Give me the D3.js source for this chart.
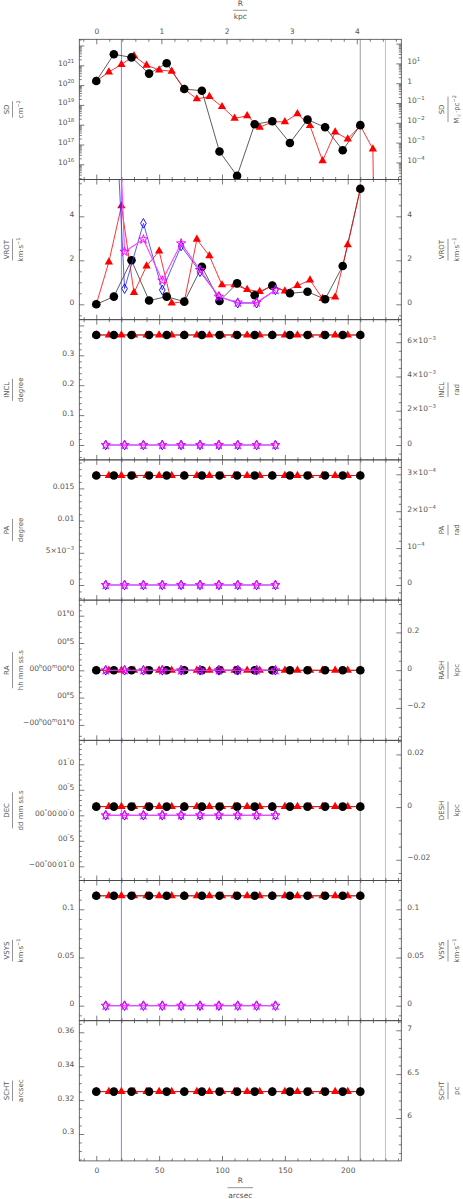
<!DOCTYPE html>
<html><head><meta charset="utf-8">
<script src="https://cdn.jsdelivr.net/npm/d3@7"></script>
<style>
body{margin:0;background:#fff}
svg text{font-family:"DejaVu Sans","Liberation Sans",sans-serif;fill:#555}
</style></head><body>
<svg id="c" width="463" height="1199"></svg>
<script>
// ---------------- DATA ----------------
const R_OBS  = [0,14,28,42,56,70,84,98,112,126,140,154,168,182,196,210];
const R_MOD  = [0,10,20,30,40,50,60,70,80,90,100,110,120,130,140,150,160,170,180,190,200,210];
const R_MOD_SD = [0,10,20,30,40,50,60,70,80,90,100,110,120,130,140,150,160,170,180,190,200,210,220,230];
const R_BOOT = [7.5,22.5,37.5,52.5,67.5,82.5,97.5,112.5,127.5,142.5];

const SD_OBS = [1.6e20,3.6e21,2.5e21,3.8e20,1.26e21,6.3e19,5.2e19,4.4e16,2.6e15,1.05e18,1.5e18,1.2e17,1.8e18,7.4e17,5.1e16,9.5e17];
const SD_MOD = [1.6e20,4.6e20,1.1e21,3.0e21,1.0e21,5.8e20,5.0e20,6.2e19,2.0e19,2.6e19,8.1e18,2.1e18,2.8e18,7.4e17,1.4e18,1.4e18,3.5e18,8.9e17,1.5e16,4.2e17,1.9e17,9.0e17,5.9e16,0];

const VROT_OBS  = [0,0.35,2.0,0.17,0.35,0.12,1.71,0.15,0.95,0.41,0.85,0.5,0.57,0.23,1.74,5.25];
const VROT_MOD  = [0,1.92,4.47,0.53,1.74,2.42,0.05,0.12,2.95,2.2,0.88,0.88,0.67,0.58,0.85,0.6,0.85,1.1,0.26,0.33,2.7,5.25];
const VROT_DIA  = [18,0.71,3.68,0.65,2.65,1.48,0.35,0.05,0.05,0.65];
const VROT_STAR = [24,2.39,2.95,1.08,2.77,1.56,0.35,0.08,0.08,0.65];

const INCL_OBS = [0.368,0.368,0.368,0.368,0.368,0.368,0.368,0.368,0.368,0.368,0.368,0.368,0.368,0.368,0.368,0.368];
const INCL_MOD = [0.368,0.368,0.368,0.368,0.368,0.368,0.368,0.368,0.368,0.368,0.368,0.368,0.368,0.368,0.368,0.368,0.368,0.368,0.368,0.368,0.368,0.368];
const INCL_BOOT = [0,0,0,0,0,0,0,0,0,0];

const PA_OBS = [0.017,0.017,0.017,0.017,0.017,0.017,0.017,0.017,0.017,0.017,0.017,0.017,0.017,0.017,0.017,0.017];
const PA_MOD = [0.017,0.017,0.017,0.017,0.017,0.017,0.017,0.017,0.017,0.017,0.017,0.017,0.017,0.017,0.017,0.017,0.017,0.017,0.017,0.017,0.017,0.017];
const PA_BOOT = [0,0,0,0,0,0,0,0,0,0];

const RA_OBS = [0,0,0,0,0,0,0,0,0,0,0,0,0,0,0,0];
const RA_MOD = [0,0,0,0,0,0,0,0,0,0,0,0,0,0,0,0,0,0,0,0,0,0];
const RA_BOOT = [0,0,0,0,0,0,0,0,0,0];

const DEC_OBS = [0.17,0.17,0.17,0.17,0.17,0.17,0.17,0.17,0.17,0.17,0.17,0.17,0.17,0.17,0.17,0.17];
const DEC_MOD = [0.17,0.17,0.17,0.17,0.17,0.17,0.17,0.17,0.17,0.17,0.17,0.17,0.17,0.17,0.17,0.17,0.17,0.17,0.17,0.17,0.17,0.17];
const DEC_BOOT = [0,0,0,0,0,0,0,0,0,0];

const VSYS_OBS = [0.114,0.114,0.114,0.114,0.114,0.114,0.114,0.114,0.114,0.114,0.114,0.114,0.114,0.114,0.114,0.114];
const VSYS_MOD = [0.114,0.114,0.114,0.114,0.114,0.114,0.114,0.114,0.114,0.114,0.114,0.114,0.114,0.114,0.114,0.114,0.114,0.114,0.114,0.114,0.114,0.114];
const VSYS_BOOT = [0,0,0,0,0,0,0,0,0,0];

const SCHT_OBS = [0.325,0.325,0.325,0.325,0.325,0.325,0.325,0.325,0.325,0.325,0.325,0.325,0.325,0.325,0.325,0.325];
const SCHT_MOD = [0.325,0.325,0.325,0.325,0.325,0.325,0.325,0.325,0.325,0.325,0.325,0.325,0.325,0.325,0.325,0.325,0.325,0.325,0.325,0.325,0.325,0.325];

// reference radii (vertical lines)
const REF_LINES = [20, 210, 230];

// axis ticks and labels
const X_MAJOR = [0,50,100,150,200];
const X_LABELS = ["0","50","100","150","200"];
const X_MINOR = [-10,10,20,30,40,60,70,80,90,110,120,130,140,160,170,180,190,210,220,230,240];
const KPC_MAJOR = [0,1,2,3,4];
const KPC_LABELS = ["0","1","2","3","4"];
const KPC_MINOR = [-0.2,0.2,0.4,0.6,0.8,1.2,1.4,1.6,1.8,2.2,2.4,2.6,2.8,3.2,3.4,3.6,3.8,4.2,4.4,4.6];

const SD_L_MAJOR = [1e16,1e17,1e18,1e19,1e20,1e21,1e22];
const SD_L_LABELS = ["10^{16}","10^{17}","10^{18}","10^{19}","10^{20}","10^{21}",""];
const SD_R_MAJOR = [1e-4,1e-3,1e-2,1e-1,1,10,100];
const SD_R_LABELS = ["10^{−4}","10^{−3}","10^{−2}","10^{−1}","1","10^{1}",""];
const VROT_MAJOR = [0,2,4];
const VROT_LABELS = ["0","2","4"];
const VROT_MINOR = [-0.5,0.5,1,1.5,2.5,3,3.5,4.5,5,5.5];
const INCL_L_MAJOR = [0,0.1,0.2,0.3,0.4];
const INCL_L_LABELS = ["0","0.1","0.2","0.3",""];
const INCL_L_MINOR = [-0.04,-0.02,0.02,0.04,0.06,0.08,0.12,0.14,0.16,0.18,0.22,0.24,0.26,0.28,0.32,0.34,0.36,0.38];
const INCL_R_MAJOR = [0,2e-3,4e-3,6e-3];
const INCL_R_LABELS = ["0","2×10^{−3}","4×10^{−3}","6×10^{−3}"];
const INCL_R_MINOR = [-5e-4,5e-4,1e-3,1.5e-3,2.5e-3,3e-3,3.5e-3,4.5e-3,5e-3,5.5e-3,6.5e-3,7e-3];
const PA_L_MAJOR = [0,0.005,0.01,0.015];
const PA_L_LABELS = ["0","5×10^{−3}","0.01","0.015"];
const PA_L_MINOR = [-0.002,-0.001,0.001,0.002,0.003,0.004,0.006,0.007,0.008,0.009,0.011,0.012,0.013,0.014,0.016,0.017,0.018,0.019];
const PA_R_MAJOR = [0,1e-4,2e-4,3e-4];
const PA_R_LABELS = ["0","10^{−4}","2×10^{−4}","3×10^{−4}"];
const PA_R_MINOR = [-4e-5,-2e-5,2e-5,4e-5,6e-5,8e-5,1.2e-4,1.4e-4,1.6e-4,1.8e-4,2.2e-4,2.4e-4,2.6e-4,2.8e-4,3.2e-4];
const RA_L_MAJOR = [-1,-0.5,0,0.5,1];
const RA_L_LABELS = ["−00^{h}00^{m}01^{s}0","00^{s}5","00^{h}00^{m}00^{s}0","00^{s}5","01^{s}0"];
const RA_L_MINOR = [-1.2,-0.9,-0.8,-0.7,-0.6,-0.4,-0.3,-0.2,-0.1,0.1,0.2,0.3,0.4,0.6,0.7,0.8,0.9,1.1,1.2];
const RA_R_MAJOR = [-0.2,0,0.2];
const RA_R_LABELS = ["−0.2","0","0.2"];
const RA_R_MINOR = [-0.35,-0.3,-0.25,-0.15,-0.1,-0.05,0.05,0.1,0.15,0.25,0.3,0.35];
const DEC_L_MAJOR = [-1,-0.5,0,0.5,1];
const DEC_L_LABELS = ["−00^{°}00^{′}01^{″}0","00^{″}5","00^{°}00^{′}00^{″}0","00^{″}5","01^{″}0"];
const DEC_L_MINOR = [-1.2,-0.9,-0.8,-0.7,-0.6,-0.4,-0.3,-0.2,-0.1,0.1,0.2,0.3,0.4,0.6,0.7,0.8,0.9,1.1,1.2,1.3,1.4];
const DEC_R_MAJOR = [-0.02,0,0.02];
const DEC_R_LABELS = ["−0.02","0","0.02"];
const DEC_R_MINOR = [-0.025,-0.015,-0.01,-0.005,0.005,0.01,0.015,0.025];
const VSYS_MAJOR = [0,0.05,0.1];
const VSYS_LABELS = ["0","0.05","0.1"];
const VSYS_MINOR = [-0.01,0.01,0.02,0.03,0.04,0.06,0.07,0.08,0.09,0.11,0.12];
const SCHT_L_MAJOR = [0.3,0.32,0.34,0.36];
const SCHT_L_LABELS = ["0.3","0.32","0.34","0.36"];
const SCHT_L_MINOR = [0.285,0.29,0.295,0.305,0.31,0.315,0.325,0.33,0.335,0.345,0.35,0.355,0.365];
const SCHT_R_MAJOR = [6,6.5,7];
const SCHT_R_LABELS = ["6","6.5","7"];
const SCHT_R_MINOR = [5.6,5.7,5.8,5.9,6.1,6.2,6.3,6.4,6.6,6.7,6.8,6.9,7.1];

// ---------------- LAYOUT ----------------
const X0 = 79.3, X1 = 401.3, TOP = 39.3, PH = 140.2;
const ARCSEC_PER_KPC = 51.8;
const SD_CONV = 20.096; // log10(cm^-2 per Msun pc^-2)

const svg = d3.select("#c");
const x = d3.scaleLinear().domain([-13.5, 242.6]).range([X0, X1]);
const xk = d3.scaleLinear().domain([-13.5/ARCSEC_PER_KPC, 242.6/ARCSEC_PER_KPC]).range([X0, X1]);

const panels = [
  {id:"SD", log:true, dom:[Math.pow(10,15.232), Math.pow(10,22.313)], rdom:[Math.pow(10,15.232-SD_CONV), Math.pow(10,22.313-SD_CONV)],
   lt:"SD", lu:"cm^{−2}", rt:"SD", ru:"M_{☉}·pc^{−2}", obs:SD_OBS, mod:SD_MOD, modR:R_MOD_SD,
   lMaj:SD_L_MAJOR, lLab:SD_L_LABELS, rMaj:SD_R_MAJOR, rLab:SD_R_LABELS},
  {id:"VROT", dom:[-0.70,5.673], rdom:[-0.70,5.673], lt:"VROT", lu:"km·s^{−1}", rt:"VROT", ru:"km·s^{−1}",
   obs:VROT_OBS, mod:VROT_MOD, modR:R_MOD, dia:VROT_DIA, star:VROT_STAR,
   lMaj:VROT_MAJOR, lLab:VROT_LABELS, lMin:VROT_MINOR, rMaj:VROT_MAJOR, rLab:VROT_LABELS, rMin:VROT_MINOR},
  {id:"INCL", dom:[-0.0498,0.4191], rdom:[-0.0498*Math.PI/180,0.4191*Math.PI/180], lt:"INCL", lu:"degree", rt:"INCL", ru:"rad",
   obs:INCL_OBS, mod:INCL_MOD, modR:R_MOD, dia:INCL_BOOT, star:INCL_BOOT,
   lMaj:INCL_L_MAJOR, lLab:INCL_L_LABELS, lMin:INCL_L_MINOR, rMaj:INCL_R_MAJOR, rLab:INCL_R_LABELS, rMin:INCL_R_MINOR},
  {id:"PA", dom:[-0.002345,0.019425], rdom:[-0.002345*Math.PI/180,0.019425*Math.PI/180], lt:"PA", lu:"degree", rt:"PA", ru:"rad",
   obs:PA_OBS, mod:PA_MOD, modR:R_MOD, dia:PA_BOOT, star:PA_BOOT,
   lMaj:PA_L_MAJOR, lLab:PA_L_LABELS, lMin:PA_L_MINOR, rMaj:PA_R_MAJOR, rLab:PA_R_LABELS, rMin:PA_R_MINOR},
  {id:"RA", dom:[-1.282,1.2857], rdom:[-0.3715,0.3712], lt:"RA", lu:"hh mm ss.s", rt:"RASH", ru:"kpc",
   obs:RA_OBS, mod:RA_MOD, modR:R_MOD, dia:RA_BOOT, star:RA_BOOT,
   lMaj:RA_L_MAJOR, lLab:RA_L_LABELS, lMin:RA_L_MINOR, rMaj:RA_R_MAJOR, rLab:RA_R_LABELS, rMin:RA_R_MINOR},
  {id:"DEC", dom:[-1.2784,1.4706], rdom:[-0.02786,0.02536], lt:"DEC", lu:"dd mm ss.s", rt:"DESH", ru:"kpc",
   obs:DEC_OBS, mod:DEC_MOD, modR:R_MOD, dia:DEC_BOOT, star:DEC_BOOT,
   lMaj:DEC_L_MAJOR, lLab:DEC_L_LABELS, lMin:DEC_L_MINOR, rMaj:DEC_R_MAJOR, rLab:DEC_R_LABELS, rMin:DEC_R_MINOR},
  {id:"VSYS", dom:[-0.01556,0.12988], rdom:[-0.01556,0.12988], lt:"VSYS", lu:"km·s^{−1}", rt:"VSYS", ru:"km·s^{−1}",
   obs:VSYS_OBS, mod:VSYS_MOD, modR:R_MOD, dia:VSYS_BOOT, star:VSYS_BOOT,
   lMaj:VSYS_MAJOR, lLab:VSYS_LABELS, lMin:VSYS_MINOR, rMaj:VSYS_MAJOR, rLab:VSYS_LABELS, rMin:VSYS_MINOR},
  {id:"SCHT", dom:[0.28413,0.36684], rdom:[5.5108,7.1095], lt:"SCHT", lu:"arcsec", rt:"SCHT", ru:"pc",
   obs:SCHT_OBS, mod:SCHT_MOD, modR:R_MOD,
   lMaj:SCHT_L_MAJOR, lLab:SCHT_L_LABELS, lMin:SCHT_L_MINOR, rMaj:SCHT_R_MAJOR, rLab:SCHT_R_LABELS, rMin:SCHT_R_MINOR}
];

// rich text: ^{sup} _{sub}
function rich(sel, str) {
  sel.text(null);
  const re = /(\^\{[^}]*\}|_\{[^}]*\})/g;
  const parts = str.split(re).filter(s => s.length);
  let shift = 0;
  parts.forEach(p => {
    if (p.startsWith("^{")) {
      sel.append("tspan").attr("dy", (-3 - shift) + "px").attr("font-size", "0.72em").text(p.slice(2,-1));
      shift = -3;
    } else if (p.startsWith("_{")) {
      sel.append("tspan").attr("dy", (2 - shift) + "px").attr("font-size", "0.72em").text(p.slice(2,-1));
      shift = 2;
    } else {
      sel.append("tspan").attr("dy", (-shift) + "px").text(p);
      shift = 0;
    }
  });
}

function styleAxis(g, fs) {
  g.select(".domain").remove();
  g.selectAll(".tick line").attr("stroke", "#444").attr("stroke-width", 0.7);
  g.selectAll(".tick text").attr("fill", "#555").attr("font-size", fs).attr("font-family", '"DejaVu Sans",sans-serif');
}

function labelMap(vals, labs){ const m = new Map(); vals.forEach((v,i)=>m.set(v,labs[i])); return m; }

// ---------------- REFERENCE LINES (behind) ----------------
const bottomAll = TOP + PH * panels.length;
const refColors = ["#7373ff", "#b4b4b4", "#ff9a9a"];
const refWidths = [0.9, 1.3, 0.9];
svg.append("g").selectAll("line").data(REF_LINES).join("line")
  .attr("x1", d => x(d)).attr("x2", d => x(d))
  .attr("y1", TOP).attr("y2", bottomAll)
  .attr("stroke", (d,i) => refColors[i]).attr("stroke-width", (d,i)=>refWidths[i]);

// ---------------- PANELS ----------------
panels.forEach((p, i) => {
  const top = TOP + i * PH, bot = top + PH, mid = (top + bot) / 2;
  const y = (p.log ? d3.scaleLog() : d3.scaleLinear()).domain(p.dom).range([bot, top]);
  const yr = (p.log ? d3.scaleLog() : d3.scaleLinear()).domain(p.rdom).range([bot, top]);

  svg.append("clipPath").attr("id", "clip" + i).append("rect")
    .attr("x", X0).attr("y", top).attr("width", X1 - X0).attr("height", PH);

  svg.append("rect").attr("x", X0).attr("y", top).attr("width", X1 - X0).attr("height", PH)
    .attr("fill", "none").attr("stroke", "#444").attr("stroke-width", 0.8);

  const gb = svg.append("g").attr("transform", `translate(0,${bot})`);
  const lastPanel = i === panels.length - 1;
  const xm = labelMap(X_MAJOR, X_LABELS);
  gb.call(d3.axisBottom(x).tickValues(X_MAJOR).tickSize(-5).tickSizeOuter(0).tickPadding(10)
      .tickFormat(d => lastPanel ? xm.get(d) : ""));
  styleAxis(gb, "7.5px");
  gb.selectAll(".tick text").attr("dy", "0").attr("y", 11.7);
  const gbm = svg.append("g").attr("transform", `translate(0,${bot})`);
  gbm.call(d3.axisBottom(x).tickValues(X_MINOR).tickSize(-2.5).tickSizeOuter(0).tickFormat(""));
  styleAxis(gbm, "7px");

  const gt = svg.append("g").attr("transform", `translate(0,${top})`);
  const gtm = svg.append("g").attr("transform", `translate(0,${top})`);
  if (i === 0) {
    const km = labelMap(KPC_MAJOR, KPC_LABELS);
    gt.call(d3.axisTop(xk).tickValues(KPC_MAJOR).tickSize(-5).tickSizeOuter(0).tickFormat(d => km.get(d)));
    styleAxis(gt, "7.5px");
    gt.selectAll(".tick text").attr("dy", "0").attr("y", 34.3 - top);
    gtm.call(d3.axisTop(xk).tickValues(KPC_MINOR).tickSize(-2.5).tickSizeOuter(0).tickFormat(""));
  } else {
    gt.call(d3.axisTop(x).tickValues(X_MAJOR).tickSize(-5).tickSizeOuter(0).tickFormat(""));
    styleAxis(gt, "7px");
    gtm.call(d3.axisTop(x).tickValues(X_MINOR).tickSize(-2.5).tickSizeOuter(0).tickFormat(""));
  }
  styleAxis(gtm, "7px");

  const lm = labelMap(p.lMaj, p.lLab);
  const gl = svg.append("g").attr("transform", `translate(${X0},0)`);
  gl.call(d3.axisLeft(y).tickValues(p.lMaj).tickSize(-5).tickSizeOuter(0).tickPadding(5).tickFormat(d => lm.get(d)));
  styleAxis(gl, "7.5px");
  gl.selectAll(".tick text").each(function(){ rich(d3.select(this), this.textContent); });
  const glm = svg.append("g").attr("transform", `translate(${X0},0)`);
  let lMin = p.lMin, rMin = p.rMin;
  if (p.log) {
    lMin = []; rMin = [];
    for (let e = 15; e <= 22; e++) for (let k = 2; k <= 9; k++) lMin.push(k * Math.pow(10, e));
    for (let e = -5; e <= 2; e++) for (let k = 2; k <= 9; k++) rMin.push(k * Math.pow(10, e));
    lMin = lMin.filter(v => v >= p.dom[0] && v <= p.dom[1]);
    rMin = rMin.filter(v => v >= p.rdom[0] && v <= p.rdom[1]);
  }
  glm.call(d3.axisLeft(y).tickValues(lMin).tickSize(-2.5).tickSizeOuter(0).tickFormat(""));
  styleAxis(glm, "7px");

  const rm = labelMap(p.rMaj, p.rLab);
  const gr = svg.append("g").attr("transform", `translate(${X1},0)`);
  gr.call(d3.axisRight(yr).tickValues(p.rMaj).tickSize(-5).tickSizeOuter(0).tickPadding(6).tickFormat(d => rm.get(d)));
  styleAxis(gr, "7.5px");
  gr.selectAll(".tick text").each(function(){ rich(d3.select(this), this.textContent); });
  const grm = svg.append("g").attr("transform", `translate(${X1},0)`);
  grm.call(d3.axisRight(yr).tickValues(rMin).tickSize(-2.5).tickSizeOuter(0).tickFormat(""));
  styleAxis(grm, "7px");

  function vtitle(bx, name, unit) {
    const g = svg.append("g").attr("transform", `translate(${bx},${mid}) rotate(-90)`);
    const t1 = g.append("text").attr("x", 0).attr("y", 0).attr("text-anchor", "middle").attr("font-size", "7px").text(name);
    const t2 = g.append("text").attr("x", 0).attr("y", 14.5).attr("text-anchor", "middle").attr("font-size", "7px");
    rich(t2, unit);
    const L = Math.max(t1.node().getComputedTextLength(), t2.node().getComputedTextLength()) * 0.9;
    g.append("line").attr("x1", -L/2).attr("x2", L/2).attr("y1", 4).attr("y2", 4)
      .attr("stroke", "#666").attr("stroke-width", 0.7);
  }
  vtitle(8.5, p.lt, p.lu);
  vtitle(444, p.rt, p.ru);

  const gd = svg.append("g").attr("clip-path", `url(#clip${i})`);
  const fy = v => (p.log && v <= 0) ? y(1e-30) : y(v);
  const line = d3.line().x(d => x(d[0])).y(d => fy(d[1]));
  const mod = p.modR.map((r, k) => [r, p.mod[k]]);
  const obs = R_OBS.map((r, k) => [r, p.obs[k]]);

  gd.append("path").datum(obs).attr("d", line).attr("fill", "none").attr("stroke", "#333").attr("stroke-width", 0.8);
  gd.append("path").datum(mod).attr("d", line).attr("fill", "none").attr("stroke", "#ff0000").attr("stroke-width", 0.8);
  gd.selectAll(".tri").data(mod.filter(d => !(p.log && d[1] <= 0))).join("path")
    .attr("transform", d => `translate(${x(d[0])},${fy(d[1])})`)
    .attr("d", d3.symbol(d3.symbolTriangle, 30)).attr("fill", "#ff0000");
  gd.selectAll(".dot").data(obs).join("circle")
    .attr("cx", d => x(d[0])).attr("cy", d => fy(d[1])).attr("r", 4.3).attr("fill", "#000");

  if (p.dia) {
    const dia = R_BOOT.map((r, k) => [r, p.dia[k]]);
    gd.append("path").datum(dia).attr("d", line).attr("fill", "none").attr("stroke", "#3030ff").attr("stroke-width", 0.8);
    gd.selectAll(".dia").data(dia).join("path")
      .attr("transform", d => `translate(${x(d[0])},${fy(d[1])})`)
      .attr("d", "M0,-4.8L2.8,0L0,4.8L-2.8,0Z").attr("fill", "none").attr("stroke", "#0000ff").attr("stroke-width", 0.9);
  }
  if (p.star) {
    const st = R_BOOT.map((r, k) => [r, p.star[k]]);
    gd.append("path").datum(st).attr("d", line).attr("fill", "none").attr("stroke", "#ff40ff").attr("stroke-width", 1.1);
    gd.selectAll(".star").data(st).join("path")
      .attr("transform", d => `translate(${x(d[0])},${fy(d[1])})`)
      .attr("d", d3.symbol(d3.symbolStar, 26)).attr("fill", "none").attr("stroke", "#ff00ff").attr("stroke-width", 1);
  }
});

function htitle(cy, name, unit, lineY, unitY) {
  const cx = (X0 + X1) / 2;
  const t1 = svg.append("text").attr("x", cx).attr("y", cy).attr("text-anchor", "middle").attr("font-size", "7.5px").text(name);
  const t2 = svg.append("text").attr("x", cx).attr("y", unitY).attr("text-anchor", "middle").attr("font-size", "7.5px").text(unit);
  const L = Math.max(t1.node().getComputedTextLength(), t2.node().getComputedTextLength()) * 1.05;
  svg.append("line").attr("x1", cx - L/2).attr("x2", cx + L/2).attr("y1", lineY).attr("y2", lineY)
    .attr("stroke", "#666").attr("stroke-width", 0.7);
}
htitle(6.3, "R", "kpc", 10.3, 19.3);
htitle(1182.7, "R", "arcsec", 1187.7, 1197.5);
</script>
</body></html>
